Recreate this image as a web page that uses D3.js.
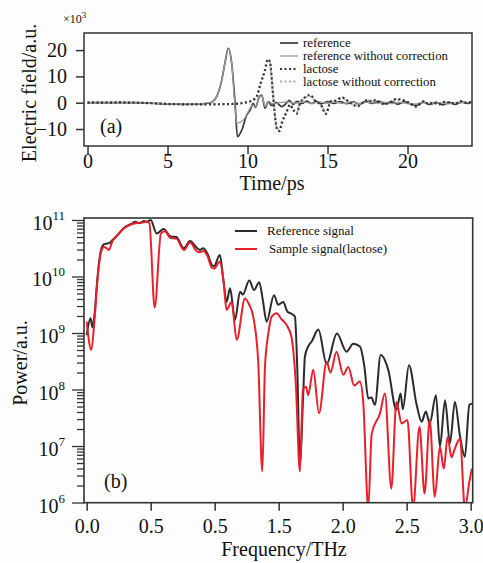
<!DOCTYPE html>
<html>
<head>
<meta charset="utf-8">
<script src="https://cdn.jsdelivr.net/npm/d3@7"></script>
<style>
  body { margin: 0; background: #fdfdfd; }
  svg { display: block; font-family: "Liberation Serif", "Times New Roman", serif; }
</style>
</head>
<body>
<svg width="483" height="563"></svg>
<script>
// ---- data (a): time domain, [ps, x10^3 a.u.]
const reference = [[0,0],[1,0],[2,0],[3,0],[4,-0.2],[5,-0.5],[6,-0.6],[7,-0.5],[7.5,-0.2],[7.8,0.3],[8.07,2.3],[8.39,8.6],[8.6,15.5],[8.8,20.7],[9.01,15],[9.22,0],[9.37,-12.9],[9.64,-10.4],[9.95,-4.7],[10.16,-2.8],[10.36,-0.2],[10.5,-1.8],[10.74,2.3],[10.89,2.9],[11.09,-2.1],[11.3,0.4],[11.5,-1],[11.8,0],[12.14,-1.5],[12.45,0],[12.6,0.9],[12.85,-0.6],[13.1,0.5],[13.4,-0.3],[13.7,0.6],[14,-0.3],[14.3,0.5],[14.6,-0.4],[15,0.4],[15.4,-0.3],[15.8,0.4],[16.2,-0.4],[16.6,0.3],[17,-0.5],[17.4,0.4],[17.8,-0.3],[18.2,0.5],[18.6,-0.4],[19,0.3],[19.4,-0.6],[19.8,0.3],[20.2,-0.5],[20.6,-1],[21,0.2],[21.4,-0.7],[21.8,0.1],[22.2,-0.8],[22.6,0],[23,-0.6],[23.4,0.2],[23.8,-0.3],[24,0.3]];
const referenceRaw = [[0,0],[1,0],[2,0],[3,0],[4,-0.2],[5,-0.4],[6,-0.5],[7,-0.4],[7.5,-0.1],[7.8,0.3],[8.07,2.3],[8.39,8.6],[8.6,15.5],[8.8,20.5],[9.01,15],[9.2,0],[9.32,-7.8],[9.74,-6.6],[10.05,-3.3],[10.3,-1],[10.5,-1.5],[10.74,2],[10.9,2.7],[11.1,-1.5],[11.3,0.5],[11.6,-0.5],[12,0],[12.5,0.3],[13,-0.2],[13.5,0.3],[14,-0.2],[14.5,0.3],[15,-0.2],[15.5,0.2],[16,-0.3],[16.5,0.2],[17,-0.3],[17.5,0.2],[18,-0.2],[18.5,0.2],[19,-0.3],[19.5,0.1],[20,-0.3],[20.5,-0.5],[21,0],[21.5,-0.4],[22,0],[22.5,-0.4],[23,-0.2],[23.5,0.1],[24,0]];
const lactose = [[0,0],[1,0],[2,0.1],[3,0],[4,-0.2],[5,-0.5],[6,-0.6],[7,-0.6],[8,-0.6],[9,-0.5],[9.8,0],[10.16,0.5],[10.57,2.3],[10.82,7.4],[11.09,12.4],[11.26,16.5],[11.4,15.6],[11.57,4.8],[11.72,-5.3],[11.86,-10.4],[11.99,-10.8],[12.14,-7.8],[12.45,-3.5],[12.65,-0.8],[12.86,-2.8],[13.07,-4.2],[13.28,-0.2],[13.5,1.5],[13.9,2.9],[14.27,0.5],[14.6,-1],[14.9,-4.3],[15.2,0.5],[15.5,0.8],[15.9,2],[16.3,0.5],[16.6,-0.8],[16.9,-1.3],[17.2,0],[17.5,1],[17.8,0.5],[18,1],[18.3,-0.2],[18.6,-0.5],[19,0.5],[19.3,1.4],[19.7,1],[20.1,0],[20.5,-1.5],[21,0.5],[21.3,-0.5],[21.6,0],[22,-0.6],[22.3,0.3],[22.7,0],[23,-0.4],[23.3,0.6],[23.7,0],[24,0.3]];
const lactoseRaw = [[0,0.1],[1,0.1],[2,0.1],[3,0],[4,-0.1],[5,-0.4],[6,-0.5],[7,-0.5],[8,-0.5],[9,-0.4],[9.8,0],[10.16,0.6],[10.57,2.4],[10.82,7.2],[11.09,12.2],[11.26,16],[11.4,15.2],[11.57,4.6],[11.72,-5],[11.86,-10],[11.99,-10.4],[12.14,-7.6],[12.45,-3.3],[12.65,-0.7],[12.86,-2.5],[13.07,-3.8],[13.28,-0.2],[13.5,1.4],[13.9,2.5],[14.27,0.5],[14.6,-0.8],[14.9,-3.8],[15.2,0.4],[15.5,0.7],[15.9,1.7],[16.3,0.5],[16.6,-0.6],[16.9,-1],[17.2,0],[17.5,0.8],[17.8,0.4],[18,0.8],[18.3,-0.1],[18.6,-0.4],[19,0.4],[19.3,1.1],[19.7,0.8],[20.1,0],[20.5,-1.1],[21,0.4],[21.3,-0.4],[21.6,0],[22,-0.4],[22.3,0.2],[22.7,0],[23,-0.3],[23.3,0.4],[23.7,0],[24,0.2]];
const timeTicks = [0, 5, 10, 15, 20];
const fieldTicks = [-10, 0, 10, 20];

// ---- data (b): spectra, [THz, log10 power]
const refSpec = [[0,8.96],[0.03,9.26],[0.045,9.1],[0.06,9.3],[0.083,9.95],[0.109,10.44],[0.135,10.57],[0.155,10.58],[0.174,10.59],[0.2,10.64],[0.24,10.73],[0.29,10.86],[0.356,10.94],[0.38,10.97],[0.41,10.94],[0.448,10.98],[0.47,10.97],[0.5,11.0],[0.547,10.76],[0.6,10.84],[0.656,10.71],[0.7,10.7],[0.76,10.5],[0.807,10.63],[0.864,10.5],[0.885,10.47],[0.91,10.5],[0.94,10.42],[0.98,10.2],[0.995,10.18],[1.04,10.38],[1.07,9.9],[1.093,9.55],[1.12,9.79],[1.159,9.23],[1.198,9.73],[1.22,9.68],[1.27,9.93],[1.307,9.76],[1.348,9.9],[1.375,9.6],[1.406,9.2],[1.463,9.67],[1.497,9.5],[1.536,9.55],[1.567,9.38],[1.6,9.34],[1.627,9.29],[1.645,8.4],[1.666,6.69],[1.69,7.81],[1.705,8.58],[1.73,8.76],[1.758,8.85],[1.81,9.06],[1.875,8.45],[1.955,8.99],[2.03,8.67],[2.083,8.81],[2.135,8.76],[2.17,8.4],[2.2,7.84],[2.225,7.86],[2.252,7.73],[2.297,8.61],[2.356,8.35],[2.42,7.64],[2.453,7.93],[2.47,7.65],[2.518,8.43],[2.578,7.73],[2.617,7.43],[2.65,7.61],[2.68,7.4],[2.729,7.9],[2.76,6.99],[2.8,7.81],[2.838,7.05],[2.877,7.78],[2.917,7.17],[2.955,6.81],[2.99,7.73],[3.01,7.75]];
const sampleSpec = [[0,9.2],[0.036,8.7],[0.06,9.2],[0.083,9.9],[0.109,10.4],[0.135,10.52],[0.155,10.5],[0.174,10.47],[0.2,10.62],[0.24,10.73],[0.29,10.85],[0.356,10.93],[0.4,10.95],[0.448,10.96],[0.47,10.97],[0.49,10.94],[0.531,9.45],[0.58,10.76],[0.61,10.8],[0.656,10.68],[0.7,10.67],[0.76,10.47],[0.807,10.6],[0.864,10.44],[0.885,10.43],[0.91,10.45],[0.94,10.38],[0.98,10.15],[0.995,10.14],[1.04,10.26],[1.07,9.9],[1.093,9.41],[1.132,9.55],[1.172,8.88],[1.237,9.61],[1.27,9.5],[1.3,9.3],[1.34,8.5],[1.372,6.55],[1.393,8.4],[1.42,9.0],[1.445,9.29],[1.484,9.35],[1.52,9.25],[1.562,9.14],[1.6,8.93],[1.634,8.1],[1.666,6.55],[1.69,8.0],[1.713,8.05],[1.73,7.9],[1.77,8.35],[1.815,7.58],[1.875,8.49],[1.905,8.3],[1.952,8.67],[2.005,8.26],[2.044,8.4],[2.09,8.07],[2.134,8.14],[2.16,7.8],[2.2,5.9],[2.227,7.22],[2.292,7.58],[2.33,7.93],[2.38,6.25],[2.42,7.78],[2.46,7.4],[2.506,7.46],[2.55,5.9],[2.6,7.34],[2.64,6.16],[2.68,7.46],[2.72,6.1],[2.76,6.99],[2.79,6.6],[2.82,7.16],[2.85,6.8],[2.877,6.96],[2.917,7.13],[2.955,5.9],[2.99,6.37],[3.01,6.6]];
const freqTicks = [0, 0.5, 1, 1.5, 2, 2.5, 3];
const freqLabels = ["0.0", "0.5", "0.5", "1.5", "2.0", "2.5", "3.0"];
const powerExps = [6, 7, 8, 9, 10, 11];

const svg = d3.select("svg");
const ink = "#333";

// ================= panel (a)
const xa = d3.scaleLinear().domain([-0.22, 24.03]).range([84, 472]);
const ya = d3.scaleLinear().domain([-16.46, 26.5]).range([146, 33]);

svg.append("clipPath").attr("id", "clipA")
  .append("rect").attr("x", 84).attr("y", 33).attr("width", 388).attr("height", 113);

const lineA = d3.line().x(d => xa(d[0])).y(d => ya(d[1])).curve(d3.curveMonotoneX);

const ga = svg.append("g").attr("clip-path", "url(#clipA)");
ga.append("path").attr("d", lineA(lactoseRaw)).attr("fill", "none")
  .attr("stroke", "#aaa").attr("stroke-width", 2).attr("stroke-dasharray", "2,2.5");
ga.append("path").attr("d", lineA(reference)).attr("fill", "none")
  .attr("stroke", "#3a3a3a").attr("stroke-width", 1.7);
ga.append("path").attr("d", lineA(referenceRaw)).attr("fill", "none")
  .attr("stroke", "#999").attr("stroke-width", 1.3);
ga.append("path").attr("d", lineA(lactose)).attr("fill", "none")
  .attr("stroke", "#333").attr("stroke-width", 2.2).attr("stroke-dasharray", "2,2.5");

svg.append("rect").attr("x", 84).attr("y", 33).attr("width", 388).attr("height", 113)
  .attr("fill", "none").attr("stroke", ink).attr("stroke-width", 1.5);

const axA = svg.append("g").attr("transform", "translate(0,146)")
  .call(d3.axisBottom(xa).tickValues(timeTicks).tickSize(8).tickPadding(0));
const ayA = svg.append("g").attr("transform", "translate(84,0)")
  .call(d3.axisLeft(ya).tickValues(fieldTicks).tickSize(8).tickPadding(9));
[axA, ayA].forEach(g => {
  g.select(".domain").remove();
  g.selectAll("line").attr("stroke", ink).attr("stroke-width", 1.5);
  g.selectAll("text").attr("font-size", 20).attr("fill", "#111")
    .attr("font-family", "Liberation Serif, Times New Roman, serif");
});

svg.append("text").attr("x", 272).attr("y", 190).attr("text-anchor", "middle")
  .attr("font-size", 20).attr("fill", "#111").text("Time/ps");
svg.append("text").attr("transform", "translate(36,93) rotate(-90)")
  .attr("text-anchor", "middle").attr("font-size", 20).attr("fill", "#111")
  .text("Electric field/a.u.");
const mult = svg.append("text").attr("x", 63).attr("y", 23).attr("font-size", 12).attr("fill", "#111");
mult.append("tspan").text("×10");
mult.append("tspan").attr("dy", -5).attr("font-size", 9).text("3");
svg.append("text").attr("x", 100).attr("y", 133).attr("font-size", 20).attr("fill", "#111").text("(a)");

// legend (a)
const legA = [
  { name: "reference", color: "#3a3a3a", w: 1.7, dash: null },
  { name: "reference without correction", color: "#999", w: 1.3, dash: null },
  { name: "lactose", color: "#333", w: 2.2, dash: "2,2.5" },
  { name: "lactose without correction", color: "#aaa", w: 2, dash: "2,2.5" }
];
const legAy = [43, 56, 69, 81.5];
legA.forEach((d, i) => {
  svg.append("line").attr("x1", 280).attr("x2", 298).attr("y1", legAy[i]).attr("y2", legAy[i])
    .attr("stroke", d.color).attr("stroke-width", d.w).attr("stroke-dasharray", d.dash);
  svg.append("text").attr("x", 303).attr("y", legAy[i]).attr("dy", "0.32em")
    .attr("font-size", 12.8).attr("fill", "#111").text(d.name);
});

// ================= panel (b)
const xb = d3.scaleLinear().domain([-0.021, 3.016]).range([84, 472.7]);
const yb = d3.scaleLog().domain([Math.pow(10, 5.997), Math.pow(10, 11.035)]).range([502.7, 218]);

svg.append("clipPath").attr("id", "clipB")
  .append("rect").attr("x", 84).attr("y", 218).attr("width", 388.7).attr("height", 284.7);

const lineB = d3.line().x(d => xb(d[0])).y(d => yb(Math.pow(10, d[1]))).curve(d3.curveMonotoneX);
const gb = svg.append("g").attr("clip-path", "url(#clipB)");
gb.append("path").attr("d", lineB(refSpec)).attr("fill", "none")
  .attr("stroke", "#2b2b2b").attr("stroke-width", 2);
gb.append("path").attr("d", lineB(sampleSpec)).attr("fill", "none")
  .attr("stroke", "#e8202c").attr("stroke-width", 2);

svg.append("rect").attr("x", 84).attr("y", 218).attr("width", 388.7).attr("height", 284.7)
  .attr("fill", "none").attr("stroke", ink).attr("stroke-width", 1.6);

const axB = svg.append("g").attr("transform", "translate(0,502.7)")
  .call(d3.axisBottom(xb).tickValues(freqTicks).tickSize(8).tickPadding(8)
    .tickFormat((d, i) => freqLabels[i]));
axB.select(".domain").remove();
axB.selectAll("line").attr("stroke", ink).attr("stroke-width", 1.5);
axB.selectAll("text").attr("font-size", 20).attr("fill", "#111")
  .attr("font-family", "Liberation Serif, Times New Roman, serif");

const minor = yb.ticks().filter(v => Math.abs(Math.log10(v) - Math.round(Math.log10(v))) > 1e-6);
const ayMinor = svg.append("g").attr("transform", "translate(84,0)")
  .call(d3.axisLeft(yb).tickValues(minor).tickSize(7).tickFormat(""));
const ayMajor = svg.append("g").attr("transform", "translate(84,0)")
  .call(d3.axisLeft(yb).tickValues(powerExps.map(e => Math.pow(10, e))).tickSize(12).tickFormat(""));
[ayMinor, ayMajor].forEach(g => {
  g.select(".domain").remove();
  g.selectAll("line").attr("stroke", ink).attr("stroke-width", 1.3);
});
powerExps.forEach(e => {
  const t = svg.append("text").attr("x", 65).attr("y", yb(Math.pow(10, e)) + 10)
    .attr("text-anchor", "end").attr("font-size", 20).attr("fill", "#111");
  t.append("tspan").text("10");
  t.append("tspan").attr("dy", -10).attr("font-size", 13).text(e);
});

svg.append("text").attr("x", 284).attr("y", 556).attr("text-anchor", "middle")
  .attr("font-size", 20).attr("fill", "#111").text("Frequency/THz");
svg.append("text").attr("transform", "translate(26.5,363) rotate(-90)")
  .attr("text-anchor", "middle").attr("font-size", 20).attr("fill", "#111").text("Power/a.u.");
svg.append("text").attr("x", 104).attr("y", 488).attr("font-size", 20).attr("fill", "#111").text("(b)");

// legend (b)
const legB = [
  { name: "Reference signal", color: "#2b2b2b", x: 267, y: 231 },
  { name: "Sample signal(lactose)", color: "#e8202c", x: 269, y: 249 }
];
legB.forEach(d => {
  svg.append("line").attr("x1", 235).attr("x2", 257).attr("y1", d.y).attr("y2", d.y)
    .attr("stroke", d.color).attr("stroke-width", 2);
  svg.append("text").attr("x", d.x).attr("y", d.y).attr("dy", "0.32em")
    .attr("font-size", 13).attr("fill", "#111").text(d.name);
});
</script>
</body>
</html>
